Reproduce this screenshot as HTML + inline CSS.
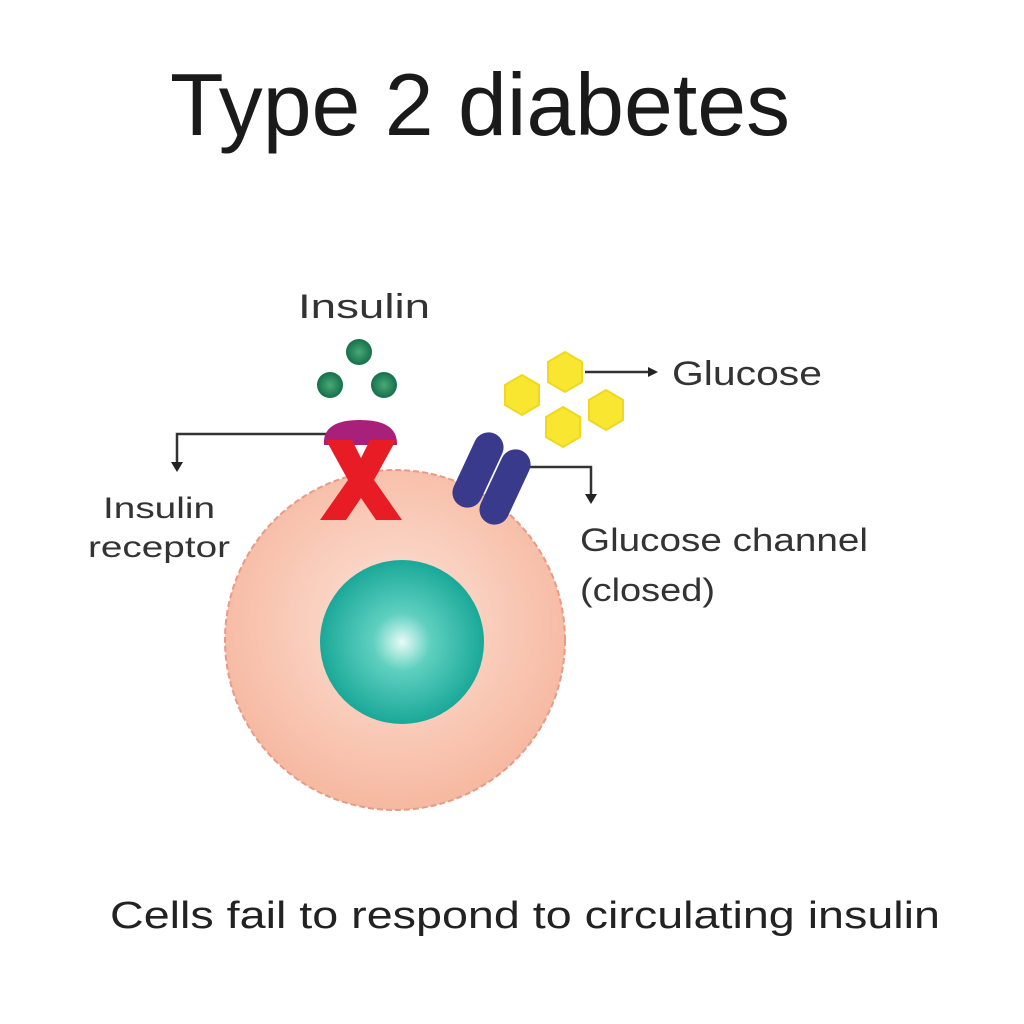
<!DOCTYPE html>
<html><head><meta charset="utf-8"><style>html,body{margin:0;padding:0;background:#fff}svg{display:block}</style></head>
<body>
<svg width="1024" height="1024" viewBox="0 0 1024 1024" xmlns="http://www.w3.org/2000/svg" font-family="Liberation Sans, sans-serif">
<defs>
<radialGradient id="cell" cx="0.5" cy="0.45" r="0.55"><stop offset="0" stop-color="#fde3d8"/><stop offset="1" stop-color="#f6b8a0"/></radialGradient>
<radialGradient id="nuc" cx="0.5" cy="0.5" r="0.5"><stop offset="0" stop-color="#e8fbf7"/><stop offset="0.35" stop-color="#5fd0c0"/><stop offset="1" stop-color="#1aa898"/></radialGradient>
<radialGradient id="grn" cx="0.5" cy="0.5" r="0.5"><stop offset="0" stop-color="#4aa878"/><stop offset="1" stop-color="#15704a"/></radialGradient>
</defs>
<text x="170" y="135" font-size="88" fill="#1a1a1a" textLength="620" lengthAdjust="spacingAndGlyphs">Type 2 diabetes</text>

<text x="298" y="318" font-size="34" fill="#333" textLength="132" lengthAdjust="spacingAndGlyphs">Insulin</text>
<text x="672" y="385" font-size="34" fill="#333" textLength="150" lengthAdjust="spacingAndGlyphs">Glucose</text>
<text x="103" y="518" font-size="30" fill="#333" textLength="112" lengthAdjust="spacingAndGlyphs">Insulin</text>
<text x="88" y="557" font-size="30" fill="#333" textLength="142" lengthAdjust="spacingAndGlyphs">receptor</text>
<text x="580" y="551" font-size="32" fill="#333" textLength="288" lengthAdjust="spacingAndGlyphs">Glucose channel</text>
<text x="580" y="601" font-size="32" fill="#333" textLength="135" lengthAdjust="spacingAndGlyphs">(closed)</text>

<circle cx="395" cy="640" r="170" fill="url(#cell)" stroke="#e89a86" stroke-width="2" stroke-dasharray="6 3"/>
<circle cx="402" cy="642" r="82" fill="url(#nuc)"/>

<g stroke="#333" stroke-width="2.5" fill="none">
<polyline points="330,434 177,434 177,462"/>
<polyline points="528,467 591,467 591,494"/>
<line x1="585" y1="372" x2="648" y2="372"/>
</g>
<g fill="#222">
<polygon points="171,462 183,462 177,472"/>
<polygon points="585,494 597,494 591,504"/>
<polygon points="648,367 658,372 648,377"/>
</g>

<circle cx="359" cy="352" r="13" fill="url(#grn)"/>
<circle cx="330" cy="385" r="13" fill="url(#grn)"/>
<circle cx="384" cy="385" r="13" fill="url(#grn)"/>

<path d="M324,445 Q322,420 360,420 Q398,420 397,445 Z" fill="#a8207a"/>
<path d="M326,440 L352,440 L361,458 L370,440 L396,440 L374,480 L402,520 L376,520 L361,498 L346,520 L320,520 L348,480 Z" fill="#e81c24"/>

<g fill="#f8e630" stroke="#f0d820" stroke-width="2">
<polygon points="565,352 582,362 582,382 565,392 548,382 548,362"/>
<polygon points="522,375 539,385 539,405 522,415 505,405 505,385"/>
<polygon points="606,390 623,400 623,420 606,430 589,420 589,400"/>
<polygon points="563,407 580,417 580,437 563,447 546,437 546,417"/>
</g>

<g fill="#3a3a8c">
<rect x="-15" y="-40" width="30" height="80" rx="15" transform="translate(478,470) rotate(25)"/>
<rect x="-15" y="-40" width="30" height="80" rx="15" transform="translate(505,487) rotate(25)"/>
</g>

<text x="110" y="928" font-size="38" fill="#222" textLength="830" lengthAdjust="spacingAndGlyphs">Cells fail to respond to circulating insulin</text>
</svg>
</body></html>
